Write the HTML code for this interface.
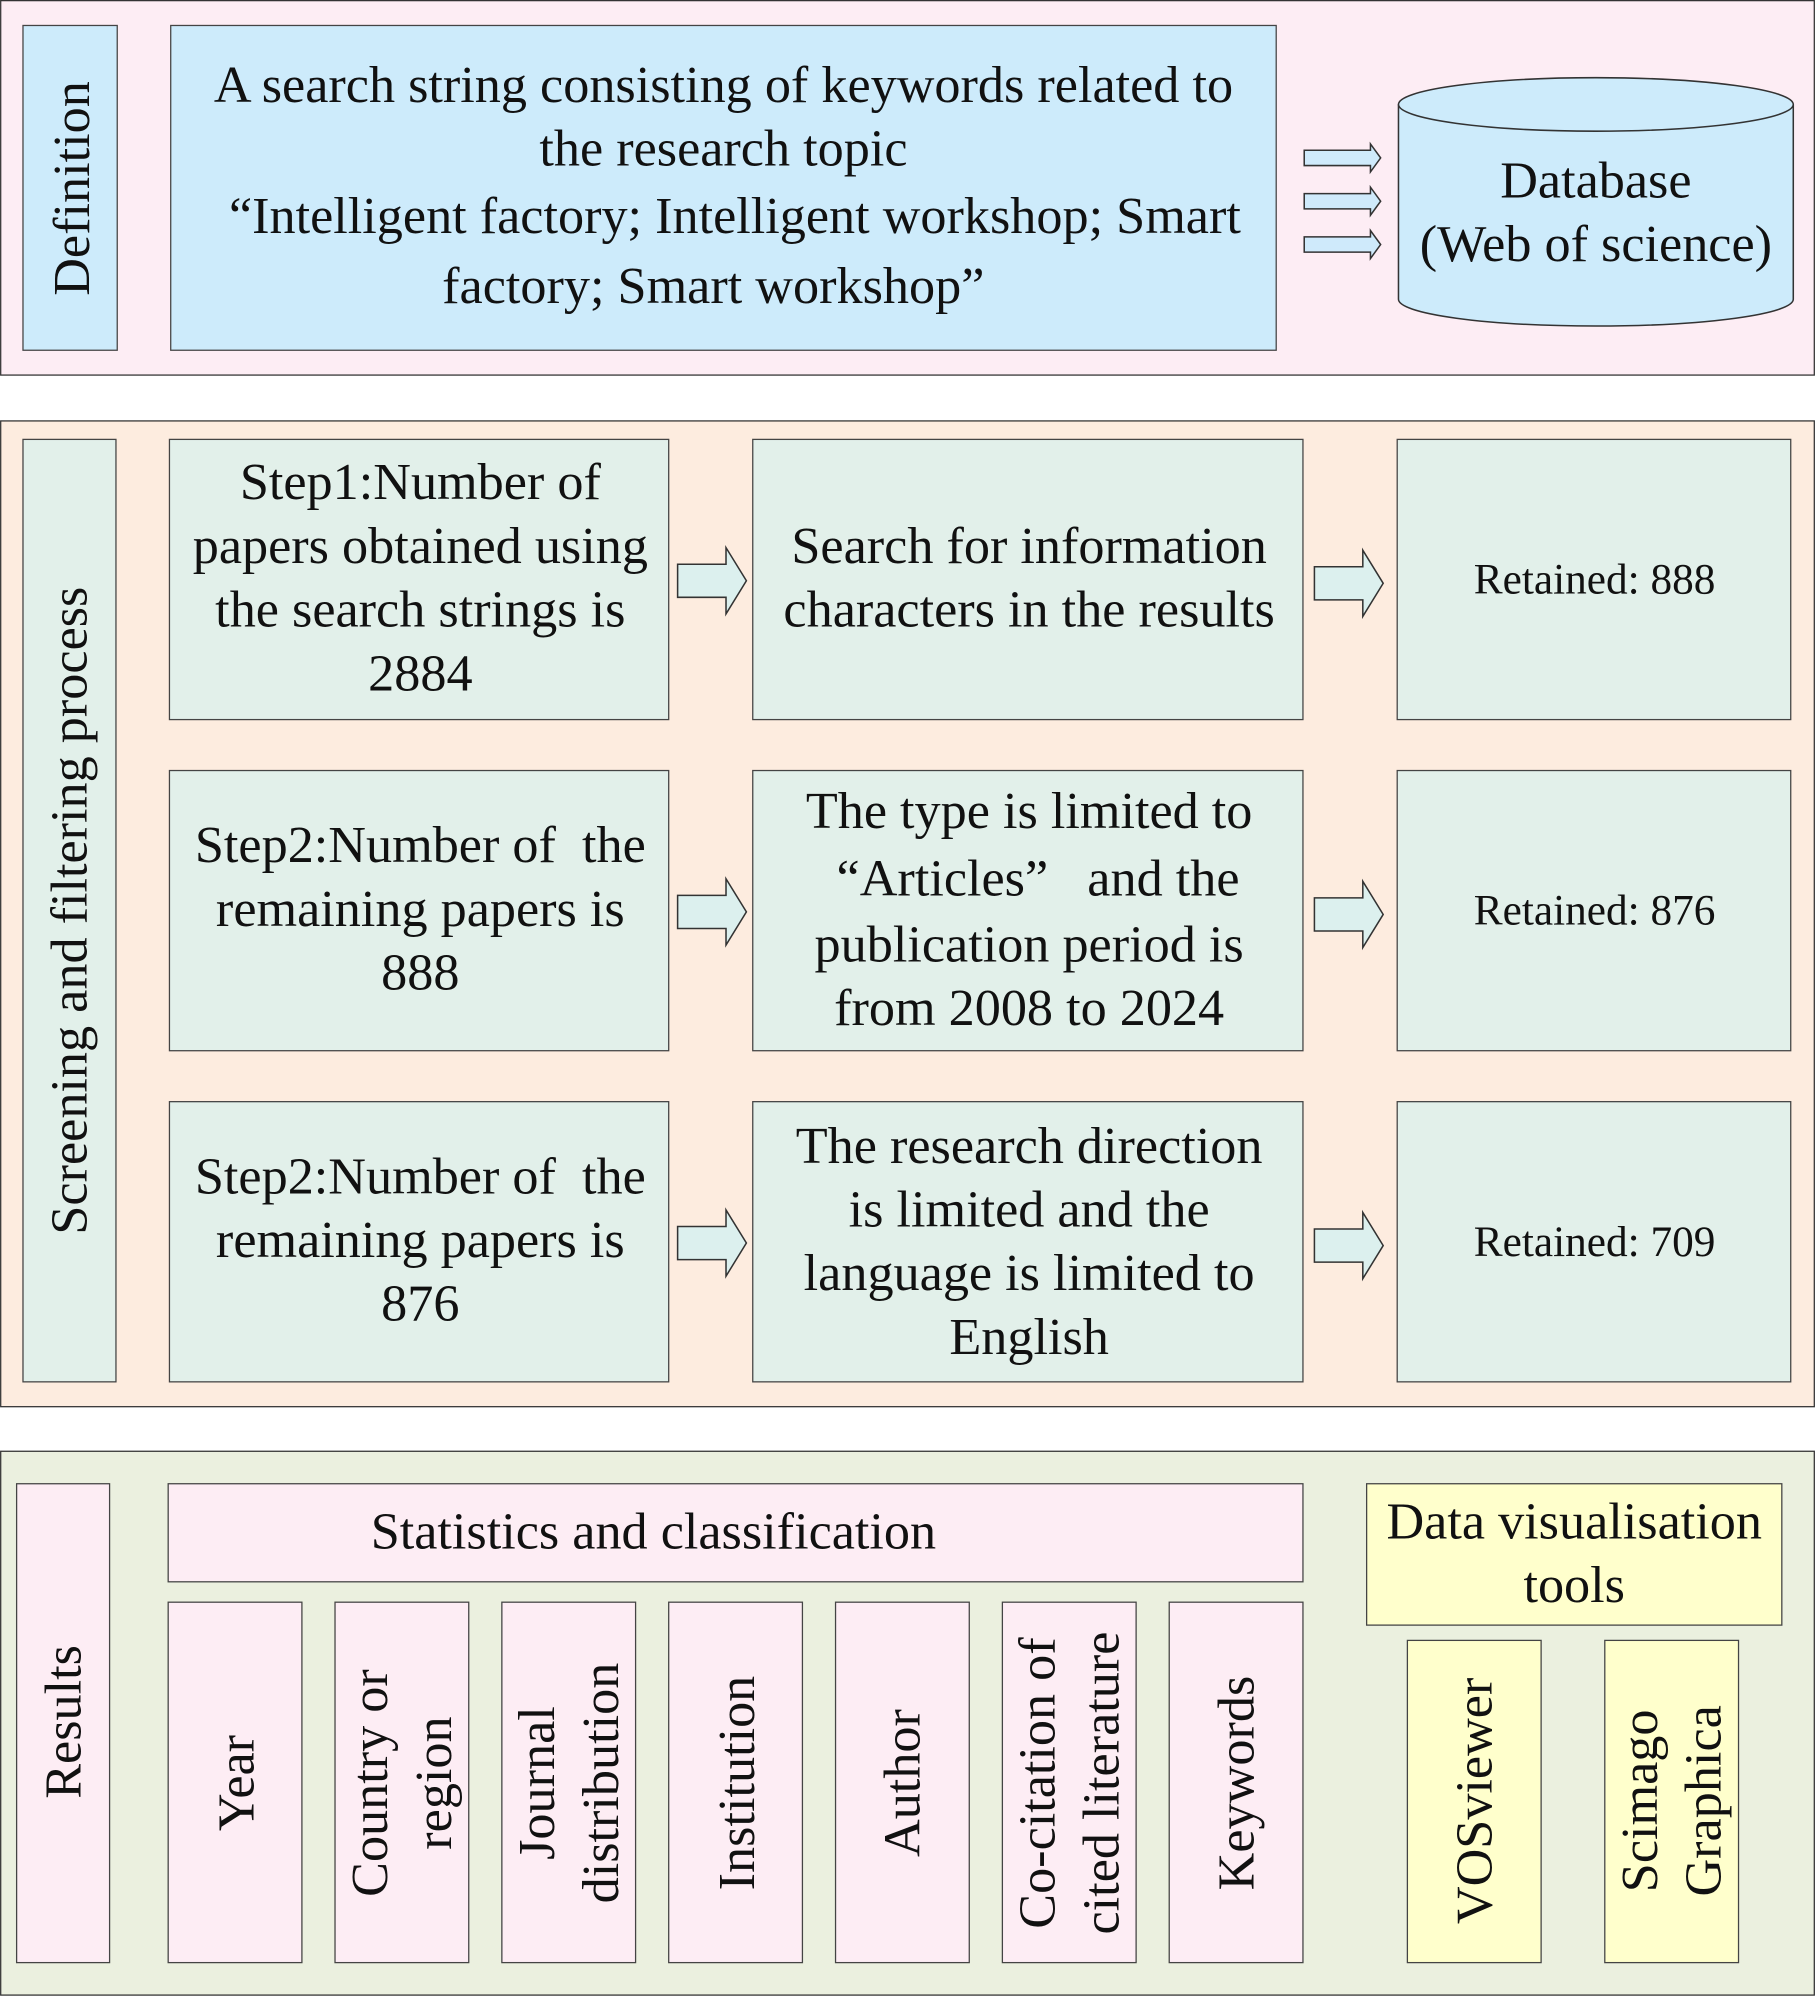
<!DOCTYPE html>
<html><head><meta charset="utf-8"><style>html,body{margin:0;padding:0;background:#fff}svg{display:block}</style></head>
<body>
<svg width="1815" height="1997" viewBox="0 0 1425 1568" xmlns="http://www.w3.org/2000/svg" font-family="'Liberation Serif', serif" fill="#111">
<defs>
<g id="ba"><path d="M0,-13 H38 V-26 L54,0 L38,26 V13 H0 Z" fill="#dcf0ee" stroke="#333" stroke-width="1.2"/></g>
<g id="sa"><path d="M0,-6 H52 V-11 L60,0 L52,11 V6 H0 Z" fill="#cfeafb" stroke="#333" stroke-width="1.2"/></g>
</defs>
<!-- Top panel -->
<rect x="0.5" y="0.5" width="1424" height="294" fill="#fdedf4" stroke="#333"/>
<rect x="18" y="20" width="74" height="255" fill="#cdebfb" stroke="#444"/>
<text transform="translate(70,148) rotate(-90)" text-anchor="middle" font-size="41">Definition</text>
<rect x="134" y="20" width="868" height="255" fill="#cdebfb" stroke="#444"/>
<g font-size="41" text-anchor="middle">
<text x="568" y="80">A search string consisting of keywords related to</text>
<text x="568" y="130">the research topic</text>
<text x="577" y="183">“Intelligent factory; Intelligent workshop; Smart</text>
<text x="560" y="238">factory; Smart workshop”</text>
</g>
<use href="#sa" x="1024" y="124"/><use href="#sa" x="1024" y="158"/><use href="#sa" x="1024" y="192"/>
<path d="M1098,82 V235 A155,21 0 0 0 1408,235 V82" fill="#cdebfb" stroke="#333" stroke-width="1.2"/>
<ellipse cx="1253" cy="82" rx="155" ry="21" fill="#cdebfb" stroke="#333" stroke-width="1.2"/>
<g font-size="41" text-anchor="middle"><text x="1253" y="155">Database</text><text x="1253" y="205">(Web of science)</text></g>
<!-- Middle panel -->
<rect x="0.5" y="330.5" width="1424" height="774" fill="#fdecdf" stroke="#333"/>
<rect x="18" y="345" width="73" height="740" fill="#e2f0ea" stroke="#444"/>
<text transform="translate(68,715) rotate(-90)" text-anchor="middle" font-size="41">Screening and filtering process</text>
<g fill="#e2f0ea" stroke="#444">
<rect x="133" y="345" width="392" height="220"/><rect x="591" y="345" width="432" height="220"/><rect x="1097" y="345" width="309" height="220"/>
<rect x="133" y="605" width="392" height="220"/><rect x="591" y="605" width="432" height="220"/><rect x="1097" y="605" width="309" height="220"/>
<rect x="133" y="865" width="392" height="220"/><rect x="591" y="865" width="432" height="220"/><rect x="1097" y="865" width="309" height="220"/>
</g>
<use href="#ba" x="532" y="456"/><use href="#ba" x="1032" y="458"/>
<use href="#ba" x="532" y="716"/><use href="#ba" x="1032" y="718"/>
<use href="#ba" x="532" y="976"/><use href="#ba" x="1032" y="978"/>
<g font-size="41" text-anchor="middle">
<text x="330" y="392">Step1:Number of</text><text x="330" y="442">papers obtained using</text><text x="330" y="492">the search strings is</text><text x="330" y="542">2884</text>
<text x="808" y="442">Search for information</text><text x="808" y="492">characters in the results</text>
<text x="330" y="677" xml:space="preserve">Step2:Number of  the</text><text x="330" y="727">remaining papers is</text><text x="330" y="777">888</text>
<text x="808" y="650">The type is limited to</text><text x="815" y="703" xml:space="preserve">“Articles”   and the</text><text x="808" y="755">publication period is</text><text x="808" y="805">from 2008 to 2024</text>
<text x="330" y="937" xml:space="preserve">Step2:Number of  the</text><text x="330" y="987">remaining papers is</text><text x="330" y="1037">876</text>
<text x="808" y="913">The research direction</text><text x="808" y="963">is limited and the</text><text x="808" y="1013">language is limited to</text><text x="808" y="1063">English</text>
</g>
<g font-size="34" text-anchor="middle">
<text x="1252" y="466">Retained: 888</text><text x="1252" y="726">Retained: 876</text><text x="1252" y="986">Retained: 709</text>
</g>
<!-- Bottom panel -->
<rect x="0.5" y="1139.5" width="1424" height="427" fill="#ebf0df" stroke="#333"/>
<rect x="13" y="1165" width="73" height="376" fill="#fdedf4" stroke="#444"/>
<text transform="translate(63,1352) rotate(-90)" text-anchor="middle" font-size="41">Results</text>
<rect x="132" y="1165" width="891" height="77" fill="#fdedf4" stroke="#444"/>
<text x="513" y="1216" text-anchor="middle" font-size="41">Statistics and classification</text>
<g fill="#fdedf4" stroke="#444">
<rect x="132" y="1258" width="105" height="283"/><rect x="263" y="1258" width="105" height="283"/><rect x="394" y="1258" width="105" height="283"/>
<rect x="525" y="1258" width="105" height="283"/><rect x="656" y="1258" width="105" height="283"/><rect x="787" y="1258" width="105" height="283"/><rect x="918" y="1258" width="105" height="283"/>
</g>
<g font-size="41" text-anchor="middle">
<text transform="translate(199,1400) rotate(-90)">Year</text>
<text transform="translate(304,1400) rotate(-90)">Country or</text><text transform="translate(354,1400) rotate(-90)">region</text>
<text transform="translate(435,1400) rotate(-90)">Journal</text><text transform="translate(485,1400) rotate(-90)">distribution</text>
<text transform="translate(592,1400) rotate(-90)">Institution</text>
<text transform="translate(722,1400) rotate(-90)">Author</text>
<text transform="translate(828,1400) rotate(-90)">Co-citation of</text><text transform="translate(878,1400) rotate(-90)">cited literature</text>
<text transform="translate(984,1400) rotate(-90)">Keywords</text>
</g>
<rect x="1073" y="1165" width="326" height="111" fill="#ffffcc" stroke="#444"/>
<g font-size="41" text-anchor="middle"><text x="1236" y="1208">Data visualisation</text><text x="1236" y="1258">tools</text></g>
<rect x="1105" y="1288" width="105" height="253" fill="#ffffcc" stroke="#444"/>
<rect x="1260" y="1288" width="105" height="253" fill="#ffffcc" stroke="#444"/>
<g font-size="41" text-anchor="middle">
<text transform="translate(1171,1414) rotate(-90)">VOSviewer</text>
<text transform="translate(1301,1414) rotate(-90)">Scimago</text><text transform="translate(1351,1414) rotate(-90)">Graphica</text>
</g>
</svg>
</body></html>
